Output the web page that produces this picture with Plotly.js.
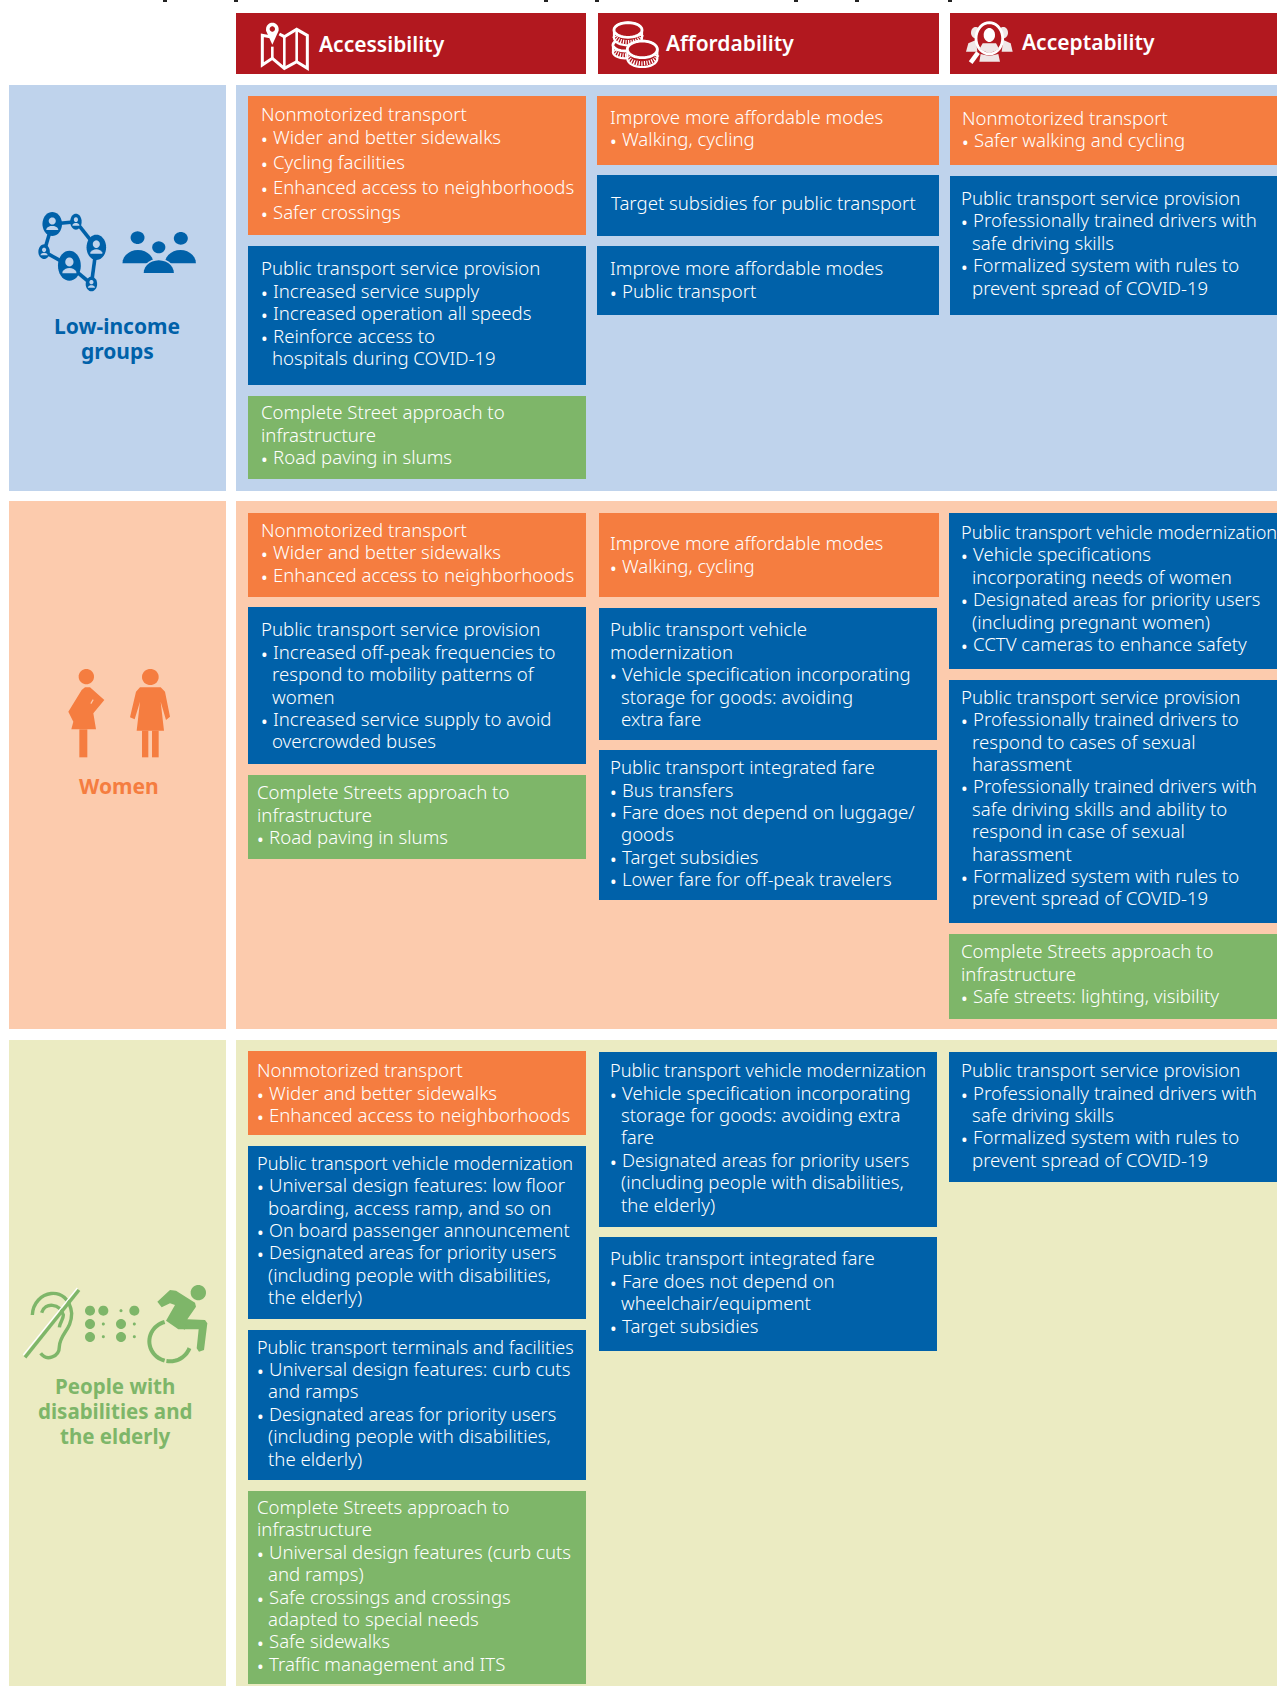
<!DOCTYPE html>
<html><head><meta charset="utf-8">
<script src="https://cdn.plot.ly/plotly-3.0.1.min.js"></script>
<style>html,body{margin:0;padding:0;background:#fff;overflow:hidden}#chart{width:1277px;height:1686px}</style>
</head><body><div id="chart"></div>
<script>
// ---------- content ----------
const columnHeaders = ["Accessibility", "Affordability", "Acceptability"];
const rowLabels = [["Low-income", "groups"], ["Women"], ["People with", "disabilities and", "the elderly"]];

const lowAccessA = ["Nonmotorized transport", "• Wider and better sidewalks", "• Cycling facilities", "• Enhanced access to neighborhoods", "• Safer crossings"];
const lowAccessB = ["Public transport service provision", "• Increased service supply", "• Increased operation all speeds", "• Reinforce access to", "  hospitals during COVID-19"];
const lowAccessC = ["Complete Street approach to", "infrastructure", "• Road paving in slums"];
const lowAffordA = ["Improve more affordable modes", "• Walking, cycling"];
const lowAffordB = ["Target subsidies for public transport"];
const lowAffordC = ["Improve more affordable modes", "• Public transport"];
const lowAcceptA = ["Nonmotorized transport", "• Safer walking and cycling"];
const lowAcceptB = ["Public transport service provision", "• Professionally trained drivers with", "  safe driving skills", "• Formalized system with rules to", "  prevent spread of COVID-19"];

const womenAccessA = ["Nonmotorized transport", "• Wider and better sidewalks", "• Enhanced access to neighborhoods"];
const womenAccessB = ["Public transport service provision", "• Increased off-peak frequencies to", "  respond to mobility patterns of", "  women", "• Increased service supply to avoid", "  overcrowded buses"];
const womenAccessC = ["Complete Streets approach to", "infrastructure", "• Road paving in slums"];
const womenAffordA = ["Improve more affordable modes", "• Walking, cycling"];
const womenAffordB = ["Public transport vehicle", "modernization", "• Vehicle specification incorporating", "  storage for goods: avoiding", "  extra fare"];
const womenAffordC = ["Public transport integrated fare", "• Bus transfers", "• Fare does not depend on luggage/", "  goods", "• Target subsidies", "• Lower fare for off-peak travelers"];
const womenAcceptA = ["Public transport vehicle modernization", "• Vehicle specifications", "  incorporating needs of women", "• Designated areas for priority users", "  (including pregnant women)", "• CCTV cameras to enhance safety"];
const womenAcceptB = ["Public transport service provision", "• Professionally trained drivers to", "  respond to cases of sexual", "  harassment", "• Professionally trained drivers with", "  safe driving skills and ability to", "  respond in case of sexual", "  harassment", "• Formalized system with rules to", "  prevent spread of COVID-19"];
const womenAcceptC = ["Complete Streets approach to", "infrastructure", "• Safe streets: lighting, visibility"];

const elderAccessA = ["Nonmotorized transport", "• Wider and better sidewalks", "• Enhanced access to neighborhoods"];
const elderAccessB = ["Public transport vehicle modernization", "• Universal design features: low floor", "  boarding, access ramp, and so on", "• On board passenger announcement", "• Designated areas for priority users", "  (including people with disabilities,", "  the elderly)"];
const elderAccessC = ["Public transport terminals and facilities", "• Universal design features: curb cuts", "  and ramps", "• Designated areas for priority users", "  (including people with disabilities,", "  the elderly)"];
const elderAccessD = ["Complete Streets approach to", "infrastructure", "• Universal design features (curb cuts", "  and ramps)", "• Safe crossings and crossings", "  adapted to special needs", "• Safe sidewalks", "• Traffic management and ITS"];
const elderAffordA = ["Public transport vehicle modernization", "• Vehicle specification incorporating", "  storage for goods: avoiding extra", "  fare", "• Designated areas for priority users", "  (including people with disabilities,", "  the elderly)"];
const elderAffordB = ["Public transport integrated fare", "• Fare does not depend on", "  wheelchair/equipment", "• Target subsidies"];
const elderAcceptA = ["Public transport service provision", "• Professionally trained drivers with", "  safe driving skills", "• Formalized system with rules to", "  prevent spread of COVID-19"];

// ---------- styles ----------
const RED = "#b2181f", ORANGE = "#f57d40", BLUE = "#0061a9", GREEN = "#7eb669";
const BAND = ["#bfd3ec", "#fccbad", "#ebebc2"];
const LABEL = [BLUE, ORANGE, GREEN];
const FONT = '"Noto Sans", "Open Sans", sans-serif';
const BODY_SIZE = 18.6, BODY_WEIGHT = 300, HEAD_SIZE = 21;
const LABEL_SIZE = [21, 21, 20.5];
const TEXT_LIFT = 2, TIGHT_LIFT = 1;
// a few lines are set tighter in the original
const TIGHT_SIZE = {
  "Public transport vehicle modernization": 18.1,
  "Public transport terminals and facilities": 18,
  "On board passenger announcement": 18.2,
  "Designated areas for priority users": 18.3
};

// ---------- layout tables ----------
const headerBoxes = [[236, 586], [598, 939], [950, 1277]];
const headerText = [[319, 44], [666, 43], [1022, 42]];
const bands = [[85, 491], [501, 1029], [1040, 1686]];
const labelCenters = [[117, [326, 351]], [119, [786]], [115, [1386, 1411, 1436]]];
// [text, x0, x1, y0, y1, colour, textX, bulletTextX, indentX, line centres]
const boxes = [
  [lowAccessA, 248, 586, 96, 235, ORANGE, 261, 273, 272, [115, 138, 163, 188, 213]],
  [lowAccessB, 248, 586, 246, 385, BLUE, 261, 273, 272, [269, 292, 314, 337, 359]],
  [lowAccessC, 248, 586, 396, 479, GREEN, 261, 273, 272, [413, 436, 458]],
  [lowAffordA, 597, 939, 96, 165, ORANGE, 610, 622, 621, [118, 140]],
  [lowAffordB, 597, 939, 175, 236, BLUE, 611, 622, 621, [204]],
  [lowAffordC, 597, 939, 246, 315, BLUE, 610, 622, 621, [269, 292]],
  [lowAcceptA, 950, 1277, 96, 165, ORANGE, 962, 974, 973, [119, 141]],
  [lowAcceptB, 950, 1277, 176, 315, BLUE, 961, 973, 972, [199, 221, 244, 266, 289]],

  [womenAccessA, 248, 586, 513, 597, ORANGE, 261, 273, 272, [531, 553, 576]],
  [womenAccessB, 248, 586, 607, 764, BLUE, 261, 273, 272, [630, 653, 675, 698, 720, 742]],
  [womenAccessC, 248, 586, 775, 859, GREEN, 257, 269, 268, [793, 816, 838]],
  [womenAffordA, 599, 939, 513, 597, ORANGE, 610, 622, 621, [544, 567]],
  [womenAffordB, 599, 937, 608, 740, BLUE, 610, 622, 621, [630, 653, 675, 698, 720]],
  [womenAffordC, 599, 937, 750, 900, BLUE, 610, 622, 621, [768, 791, 813, 835, 858, 880]],
  [womenAcceptA, 949, 1277, 513, 669, BLUE, 961, 973, 972, [533, 555, 578, 600, 623, 645]],
  [womenAcceptB, 949, 1277, 680, 923, BLUE, 961, 973, 972, [698, 720, 743, 765, 787, 810, 832, 855, 877, 899]],
  [womenAcceptC, 949, 1277, 934, 1019, GREEN, 961, 973, 972, [952, 975, 997]],

  [elderAccessA, 248, 586, 1051, 1135, ORANGE, 257, 269, 268, [1071, 1094, 1116]],
  [elderAccessB, 248, 586, 1146, 1319, BLUE, 257, 269, 268, [1164, 1186, 1209, 1231, 1253, 1276, 1298]],
  [elderAccessC, 248, 586, 1330, 1480, BLUE, 257, 269, 268, [1348, 1370, 1392, 1415, 1437, 1460]],
  [elderAccessD, 248, 586, 1491, 1684, GREEN, 257, 269, 268, [1508, 1530, 1553, 1575, 1598, 1620, 1642, 1665]],
  [elderAffordA, 599, 937, 1052, 1227, BLUE, 610, 622, 621, [1071, 1094, 1116, 1138, 1161, 1183, 1206]],
  [elderAffordB, 599, 937, 1237, 1351, BLUE, 610, 622, 621, [1259, 1282, 1304, 1327]],
  [elderAcceptA, 949, 1277, 1052, 1182, BLUE, 961, 973, 972, [1071, 1094, 1116, 1138, 1161]]
];

const shapes = [], annotations = [];
function rect(x0, x1, y0, y1, c) {
  shapes.push({type: "rect", xref: "x", yref: "y", x0, x1, y0, y1, fillcolor: c, line: {width: 0}, layer: "below"});
}
function label(text, x, y, opt) {
  opt = opt || {};
  annotations.push({
    xref: "x", yref: "y", x, y, text, showarrow: false, borderpad: 0, borderwidth: 0,
    xanchor: opt.anchor || "left", yanchor: "middle", align: opt.anchor === "center" ? "center" : "left",
    font: {family: FONT, size: opt.size || TIGHT_SIZE[text] || BODY_SIZE, color: opt.color || "#fff", weight: opt.weight || BODY_WEIGHT}
  });
}

headerBoxes.forEach(h => rect(h[0], h[1], 13, 74, RED));
bands.forEach((b, i) => { rect(9, 226, b[0], b[1], BAND[i]); rect(236, 1277, b[0], b[1], BAND[i]); });
columnHeaders.forEach((t, i) => label(t, headerText[i][0], headerText[i][1], {size: HEAD_SIZE, weight: 600}));
rowLabels.forEach((lines, i) => lines.forEach((t, j) =>
  label(t, labelCenters[i][0], labelCenters[i][1][j], {anchor: "center", size: LABEL_SIZE[i], weight: 700, color: LABEL[i]})));
boxes.forEach(b => {
  rect(b[1], b[2], b[3], b[4], b[5]);
  b[0].forEach((line, k) => {
    const plain = line.replace(/^(• |  )/, "");
    const y = b[9][k] - (TIGHT_SIZE[plain] && TIGHT_SIZE[plain] < 18.25 ? TIGHT_LIFT : TEXT_LIFT);
    if (line.startsWith("• ")) { label("•", b[6], b[9][k] + 0.5, {size: 17.8, weight: 400}); label(plain, b[7], y); }
    else if (line.startsWith("  ")) label(plain, b[8], y);
    else label(plain, b[6], y);
  });
});

// ---------- icon helpers: points are given in zoom-crop space and mapped to the page ----------
function mapper(ox, oy, sx, sy) { return (p) => [ox + p[0] / sx, oy + p[1] / sy]; }
function poly(m, pts, opt) {
  const d = pts.map((p, i) => { const q = m(p); return (i ? "L" : "M") + q[0].toFixed(2) + "," + q[1].toFixed(2); }).join(" ") + (opt.close ? " Z" : "");
  shapes.push({type: "path", xref: "x", yref: "y", path: d, fillcolor: opt.fill || "rgba(0,0,0,0)",
    line: {width: opt.w || 0, color: opt.stroke || "rgba(0,0,0,0)", dash: opt.dash || "solid"}, layer: "above"});
}
function curve(m, cmds, opt) {
  const t = (p) => { const q = m(p); return q[0].toFixed(2) + "," + q[1].toFixed(2); };
  const d = "M" + t(cmds[0]) + " " + cmds.slice(1).map(c => "C" + t(c[0]) + " " + t(c[1]) + " " + t(c[2])).join(" ");
  shapes.push({type: "path", xref: "x", yref: "y", path: d, fillcolor: "rgba(0,0,0,0)", line: {width: opt.w, color: opt.stroke}, layer: "above"});
}
function arcPts(cx, cy, rx, ry, a0, a1, n) {
  const out = [];
  for (let i = 0; i <= n; i++) { const a = (a0 + (a1 - a0) * i / n) * Math.PI / 180; out.push([cx + rx * Math.cos(a), cy + ry * Math.sin(a)]); }
  return out;
}
function ell(m, cx, cy, rx, ry, opt) { poly(m, arcPts(cx, cy, rx, ry, 0, 360, 36), Object.assign({close: true}, opt)); }

// map icon
(function () {
  const m = mapper(250, 10, 3, 3), W = "#fff";
  poly(m, [[60, 80], [37, 76], [37, 165], [67, 145], [103, 175], [140, 155], [172, 175], [172, 76], [140, 58], [103, 80], [88, 72]], {stroke: W, w: 3});
  poly(m, [[103, 80], [103, 175]], {stroke: W, w: 2.6});
  poly(m, [[140, 58], [140, 155]], {stroke: W, w: 2.6});
  poly(m, [[67, 110], [67, 145]], {stroke: W, w: 2.6});
  poly(m, arcPts(67, 58, 19, 20, 160, 380, 18).concat([[67, 104]]), {fill: W, close: true});
  ell(m, 67, 57, 8, 8, {fill: RED});
})();

// coin icon
(function () {
  const m = mapper(600, 10, 3, 3), W = "#fff";
  function coin(cx, cy, rx, ry, h) {
    const body = arcPts(cx, cy, rx, ry, 180, 360, 14).concat(arcPts(cx, cy + h, rx, ry, 0, 180, 16));
    poly(m, body, {fill: RED, close: true, stroke: W, w: 2.2});
    poly(m, arcPts(cx, cy + h * 0.62, rx - 1, ry, 0, 180, 16), {stroke: W, w: 4.5, dash: "1.2px,1.4px"});
    ell(m, cx, cy, rx, ry, {fill: RED, stroke: W, w: 2.8});
  }
  coin(75, 105, 36, 18, 22);
  coin(84, 60, 42, 22, 24);
  coin(127, 118, 45, 25, 28);
})();

// magnifier icon
(function () {
  const m = mapper(950, 10, 3, 3), W = "#fff", G = "#f0e6e6";
  ell(m, 77, 68, 14, 17, {fill: G}); ell(m, 160, 68, 14, 17, {fill: G});
  poly(m, [[48, 125], [55, 100], [78, 90], [82, 125]], {fill: G, close: true});
  poly(m, [[188, 125], [182, 100], [160, 90], [155, 125]], {fill: G, close: true});
  ell(m, 118, 85, 40, 47, {fill: RED, stroke: W, w: 2.8});
  ell(m, 118, 75, 17, 21, {fill: W});
  poly(m, [[88, 118], [98, 100], [138, 100], [148, 118], [118, 130]], {fill: G, close: true});
  poly(m, [[88, 155], [92, 132], [118, 138], [145, 132], [150, 155]], {fill: G, close: true});
  poly(m, [[84, 128], [62, 158]], {stroke: W, w: 4.5});
})();

// network and three people
(function () {
  const m = mapper(0, 0, 2.45, 3), C = BLUE;
  const nodes = [[128, 672, 24, 36], [186, 665, 14, 24], [236, 742, 24, 38], [108, 755, 14, 22], [170, 797, 28, 45], [224, 852, 14, 22]];
  [[0, 1], [1, 2], [2, 5], [5, 4], [4, 3], [3, 0]].forEach(e =>
    poly(m, [[nodes[e[0]][0], nodes[e[0]][1]], [nodes[e[1]][0], nodes[e[1]][1]]], {stroke: C, w: 3.6}));
  nodes.forEach(n => {
    ell(m, n[0], n[1], n[2], n[3], {fill: C});
    ell(m, n[0], n[1] - n[3] * 0.25, n[2] * 0.36, n[3] * 0.3, {fill: BAND[0]});
    poly(m, arcPts(n[0], n[1] + n[3] * 0.5, n[2] * 0.62, n[3] * 0.34, 180, 360, 10), {fill: BAND[0], close: true});
  });
  ell(m, 337, 713, 17, 19, {fill: C}); ell(m, 443, 715, 17, 19, {fill: C}); ell(m, 389, 742, 16, 18, {fill: C});
  poly(m, arcPts(338, 790, 38, 40, 180, 360, 14), {fill: C, close: true});
  poly(m, arcPts(442, 790, 38, 40, 180, 360, 14), {fill: C, close: true});
  poly(m, arcPts(389, 819, 38, 40, 180, 360, 14), {fill: BAND[0], close: true, stroke: BAND[0], w: 2});
  poly(m, arcPts(389, 819, 37, 38, 180, 360, 14), {fill: C, close: true});
})();

// women
(function () {
  const m = mapper(40, 640, 3, 3), C = ORANGE;
  ell(m, 139, 110, 23, 23, {fill: C});
  poly(m, [[135, 142], [150, 142], [193, 180], [160, 220], [168, 268], [94, 268], [100, 245], [85, 215], [125, 150]], {fill: C, close: true});
  poly(m, [[118, 268], [142, 268], [142, 352], [118, 352]], {fill: C, close: true});
  poly(m, [[151, 190], [158, 178], [161, 180], [154, 192]], {fill: BAND[1], close: true});
  ell(m, 331, 111, 25, 24, {fill: C});
  poly(m, [[300, 142], [362, 142], [375, 155], [390, 230], [378, 240], [362, 185], [372, 272], [290, 272], [300, 185], [284, 238], [270, 232], [288, 155]], {fill: C, close: true});
  poly(m, [[306, 272], [325, 272], [325, 352], [306, 352]], {fill: C, close: true});
  poly(m, [[336, 272], [356, 272], [356, 352], [336, 352]], {fill: C, close: true});
})();

// accessibility icons
(function () {
  const m = mapper(0, 1240, 3, 3), C = GREEN;
  curve(m, [[97, 225], [[100, 150], [205, 130], [215, 220]], [[215, 270], [180, 280], [178, 320]], [[178, 350], [140, 365], [122, 340]]], {stroke: C, w: 3.4});
  curve(m, [[125, 218], [[135, 185], [180, 190], [190, 225]], [[190, 240], [180, 245], [178, 262]]], {stroke: C, w: 3.4});
  poly(m, [[70, 345], [232, 144]], {stroke: "#fff", w: 1.2});
  poly(m, [[75, 352], [237, 150]], {stroke: C, w: 3.4});
  [[270, 212], [310, 212], [403, 212], [270, 252], [363, 252], [270, 291], [363, 291]].forEach(p => ell(m, p[0], p[1], 15, 15, {fill: C}));
  [[363, 212], [310, 252], [403, 252], [310, 290], [403, 290]].forEach(p => ell(m, p[0], p[1], 4.5, 4.5, {fill: C}));
  ell(m, 595, 158, 23, 23, {fill: C});
  poly(m, [[472, 185], [510, 150], [528, 152], [585, 188], [588, 200], [562, 238], [615, 240], [622, 250], [612, 330], [597, 335], [590, 325], [596, 268], [535, 268], [498, 242], [525, 195], [510, 190], [485, 202]], {fill: C, close: true});
  poly(m, arcPts(510, 304, 62, 60, 20, 100, 14), {stroke: C, w: 4});
  poly(m, arcPts(510, 304, 62, 60, 105, 255, 24), {stroke: C, w: 4});
  poly(m, arcPts(510, 304, 62, 60, 285, 320, 8), {stroke: C, w: 4});
})();

// clipped ends of the cropped line of text above the chart
[165, 236, 546, 597, 796, 857, 950].forEach(x => rect(x - 2, x + 2, 0, 2, "#222"));

Plotly.newPlot("chart", [], {
  width: 1277, height: 1686, margin: {l: 0, r: 0, t: 0, b: 0, pad: 0},
  paper_bgcolor: "#fff", plot_bgcolor: "#fff", showlegend: false,
  xaxis: {range: [0, 1277], visible: false, fixedrange: true},
  yaxis: {range: [1686, 0], visible: false, fixedrange: true},
  shapes, annotations
}, {displayModeBar: false, staticPlot: true});
</script>
</body></html>
